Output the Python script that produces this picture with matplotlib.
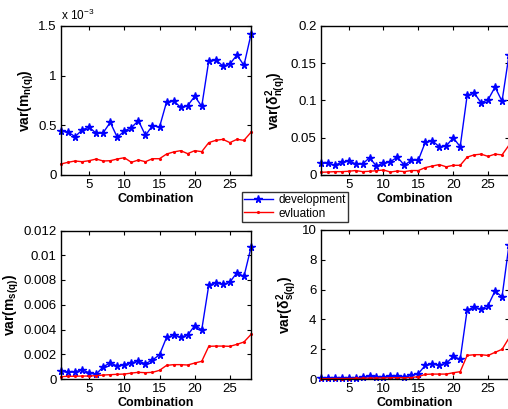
import numpy as np
import matplotlib
matplotlib.use("Agg")
import matplotlib.pyplot as plt

plt.rcParams['font.family'] = ['Liberation Sans', 'DejaVu Sans']
plt.rcParams['mathtext.fontset'] = 'custom'
plt.rcParams['mathtext.rm'] = 'Liberation Sans'
plt.rcParams['mathtext.it'] = 'Liberation Sans'
plt.rcParams['mathtext.bf'] = 'Liberation Sans:bold'

combination = list(range(1, 29))

# top-left: var(m_n(q)) (x 1e-3)
mn_dev = [0.443, 0.433, 0.386, 0.453, 0.483, 0.419, 0.426, 0.530, 0.379, 0.443,
          0.477, 0.547, 0.399, 0.497, 0.483, 0.735, 0.748, 0.681, 0.698, 0.792,
          0.691, 1.151, 1.161, 1.097, 1.117, 1.208, 1.104, 1.416]
mn_eval = [0.111, 0.128, 0.141, 0.134, 0.144, 0.161, 0.141, 0.144, 0.161, 0.174,
           0.128, 0.151, 0.134, 0.164, 0.164, 0.211, 0.232, 0.245, 0.215, 0.245,
           0.235, 0.326, 0.349, 0.359, 0.326, 0.359, 0.349, 0.430]

# top-right: var(delta^2_n(q))
dn_dev = [0.016, 0.016, 0.013, 0.017, 0.019, 0.015, 0.015, 0.023, 0.012, 0.016,
          0.018, 0.024, 0.013, 0.020, 0.020, 0.044, 0.046, 0.038, 0.039, 0.050,
          0.038, 0.107, 0.110, 0.097, 0.101, 0.118, 0.099, 0.161]
dn_eval = [0.0036, 0.0040, 0.0045, 0.0045, 0.0050, 0.0060, 0.0045, 0.0050, 0.0058, 0.0067,
           0.0040, 0.0054, 0.0045, 0.0060, 0.0060, 0.010, 0.012, 0.014, 0.011, 0.013,
           0.013, 0.024, 0.027, 0.028, 0.025, 0.028, 0.027, 0.040]

# bottom-left: var(m_s(q))
ms_dev = [0.00062, 0.00056, 0.00059, 0.00073, 0.00051, 0.00038, 0.00100, 0.00129, 0.00105, 0.00116,
          0.00132, 0.00143, 0.00124, 0.00153, 0.00196, 0.00336, 0.00353, 0.00339, 0.00355, 0.00431,
          0.00398, 0.00759, 0.00778, 0.00764, 0.00783, 0.00859, 0.00829, 0.01063]
ms_eval = [0.00019, 0.00022, 0.00022, 0.00024, 0.00024, 0.00027, 0.00032, 0.00035, 0.00038, 0.00040,
           0.00048, 0.00054, 0.00051, 0.00054, 0.00070, 0.00110, 0.00116, 0.00116, 0.00113, 0.00129,
           0.00143, 0.00264, 0.00266, 0.00266, 0.00264, 0.00280, 0.00299, 0.00360]

# bottom-right: var(delta^2_s(q))
ds_dev = [0.06, 0.05, 0.06, 0.07, 0.05, 0.05, 0.13, 0.17, 0.14, 0.15,
          0.18, 0.20, 0.16, 0.25, 0.36, 0.92, 1.00, 0.94, 1.05, 1.52,
          1.32, 4.64, 4.80, 4.69, 4.93, 5.91, 5.51, 9.00]
ds_eval = [0.02, 0.02, 0.03, 0.03, 0.03, 0.04, 0.05, 0.06, 0.06, 0.07,
           0.08, 0.09, 0.08, 0.10, 0.16, 0.31, 0.33, 0.33, 0.33, 0.42,
           0.49, 1.58, 1.63, 1.63, 1.58, 1.79, 1.99, 2.75]

W, H = 508, 409
fig = plt.figure(figsize=(W / 100, H / 100), dpi=100)

def rect(x0, y0, x1, y1):
    return [x0 / W, 1 - y1 / H, (x1 - x0) / W, (y1 - y0) / H]

panels = [
    (rect(61, 26, 251, 175), mn_dev, mn_eval, (0, 1.5), [0, 0.5, 1, 1.5],
     r'$\mathbf{var(m_{n(q)})}$', True),
    (rect(320.7, 26, 509, 175), dn_dev, dn_eval, (0, 0.2), [0, 0.05, 0.1, 0.15, 0.2],
     r'$\mathbf{var(\delta^2_{n(q)})}$', False),
    (rect(61, 230.5, 251, 379), ms_dev, ms_eval, (0, 0.012),
     [0, 0.002, 0.004, 0.006, 0.008, 0.01, 0.012], r'$\mathbf{var(m_{s(q)})}$', False),
    (rect(320.7, 230, 509, 379), ds_dev, ds_eval, (0, 10), [0, 2, 4, 6, 8, 10],
     r'$\mathbf{var(\delta^2_{s(q)})}$', False),
]

handles = None
for r, dev, ev, ylim, yt, ylab, sci in panels:
    ax = fig.add_axes(r)
    h1, = ax.plot(combination, dev, color='#0000ff', marker='*', markersize=5.5,
                  linewidth=1, label='development', clip_on=False)
    h2, = ax.plot(combination, ev, color='#ff0000', marker='.', markersize=2.5,
                  linewidth=1, label='evluation', clip_on=False)
    handles = [h1, h2]
    ax.set_xlim(1, 28)
    ax.set_ylim(*ylim)
    ax.set_xticks([5, 10, 15, 20, 25])
    ax.set_yticks(yt)
    if sci:
        ax.set_yticklabels(['0', '0.5', '1', '1.5'])
        ax.text(0.0, 1.02, r'x 10$^{-3}$', transform=ax.transAxes, fontsize=8.5,
                ha='left', va='bottom')
    else:
        ax.set_yticklabels([('%g' % v) for v in yt])
    ax.tick_params(direction='in', top=True, right=True, labelsize=9.5,
                   length=3, width=0.8, pad=3)
    for s in ax.spines.values():
        s.set_linewidth(1)
    ax.set_xlabel('Combination', fontsize=9, fontweight='bold', labelpad=1)
    ax.set_ylabel(ylab, fontsize=10, fontweight='bold', labelpad=2)

leg = fig.legend(handles, ['development', 'evluation'], loc='center',
                 bbox_to_anchor=(295 / W, 1 - 207 / H), fontsize=8.5,
                 frameon=True, fancybox=False, edgecolor='black',
                 borderpad=0.2, handlelength=2.4, labelspacing=0.1,
                 handletextpad=0.5, borderaxespad=0)
leg.get_frame().set_linewidth(1)

fig.savefig('out.png', dpi=100)
